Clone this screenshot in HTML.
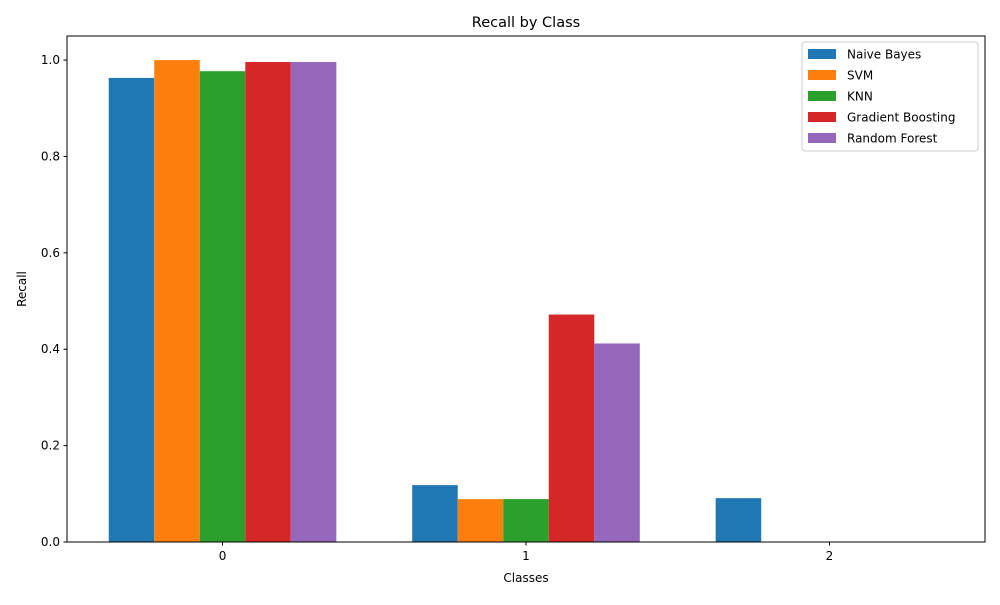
<!DOCTYPE html>
<html><head><meta charset="utf-8"><style>
body{margin:0;background:#fff;font-family:"Liberation Sans","DejaVu Sans",sans-serif;}
svg text{font-family:"DejaVu Sans","Liberation Sans",sans-serif;}
</style></head><body>
<svg id="chart" width="1000" height="600" viewBox="0 0 1000 600">
<rect width="1000" height="600" fill="#fff"/>
<text x="526" y="27" font-size="14.5" text-anchor="middle">Recall by Class</text>
<g id="bars"></g>
<g id="axes"></g>
<text x="526" y="582" font-size="12" text-anchor="middle">Classes</text>
<text x="26" y="289" font-size="12" text-anchor="middle" transform="rotate(-90 26 289)">Recall</text>
<g id="legend"></g>
</svg>
<script>
const categories = ["0","1","2"];
const seriesNames = ["Naive Bayes","SVM","KNN","Gradient Boosting","Random Forest"];
const nbValues = [0.963, 0.118, 0.091];
const svmValues = [1.0, 0.089, 0];
const knnValues = [0.977, 0.089, 0];
const gbValues = [0.996, 0.472, 0];
const rfValues = [0.996, 0.412, 0];
const yTicks = [0, 0.2, 0.4, 0.6, 0.8, 1.0];
const colors = ["#1f77b4","#ff7f0e","#2ca02c","#d62728","#9467bd"];
const allSeries = [nbValues, svmValues, knnValues, gbValues, rfValues];

const L=67,R=985,T=36,B=542;
const xMin=-0.5125,xMax=2.5125,yMin=0,yMax=1.05;
const xs=v=>L+(v-xMin)/(xMax-xMin)*(R-L);
const ys=v=>B-(v-yMin)/(yMax-yMin)*(B-T);
const NS="http://www.w3.org/2000/svg";
function mk(tag,attrs,parent){const e=document.createElementNS(NS,tag);for(const k in attrs)e.setAttribute(k,attrs[k]);parent.appendChild(e);return e;}
const bars=document.getElementById('bars'),axes=document.getElementById('axes'),legend=document.getElementById('legend');
const w=0.15;
allSeries.forEach((vals,si)=>{
  vals.forEach((v,ci)=>{
    const x0=xs(ci+(si-2)*w-w/2),x1=xs(ci+(si-2)*w+w/2);
    const r=mk('rect',{x:x0,y:ys(v),width:x1-x0,height:ys(0)-ys(v),fill:colors[si]},bars);
    
    
  });
});
const frame=mk('rect',{x:L,y:T,width:R-L,height:B-T,fill:'none',stroke:'#000','stroke-width':1},axes);


yTicks.forEach(t=>{
  const y=ys(t);
  mk('line',{x1:L-3.5,x2:L,y1:y,y2:y,stroke:'#000'},axes);
  const tx=mk('text',{x:L-7,y:y+4,'font-size':12,'text-anchor':'end'},axes);
  tx.textContent=t.toFixed(1);
  
  
});
categories.forEach((c,i)=>{
  const x=xs(i);
  mk('line',{x1:x,x2:x,y1:B,y2:B+3.5,stroke:'#000'},axes);
  const tx=mk('text',{x:x,y:B+18,'font-size':12,'text-anchor':'middle'},axes);
  tx.textContent=c;
  
  
});
const lb=mk('rect',{x:802,y:42,width:176,height:109,rx:3,fill:'#fff',stroke:'#ccc'},legend);


seriesNames.forEach((n,i)=>{
  const y=54+i*21;
  const g=mk('g',{},legend);
  
  
  mk('rect',{x:808,y:y-5,width:28,height:10,fill:colors[i]},g);
  const t=mk('text',{x:847,y:y+4.5,'font-size':12},g);
  t.textContent=n;
});
</script>
</body></html>
